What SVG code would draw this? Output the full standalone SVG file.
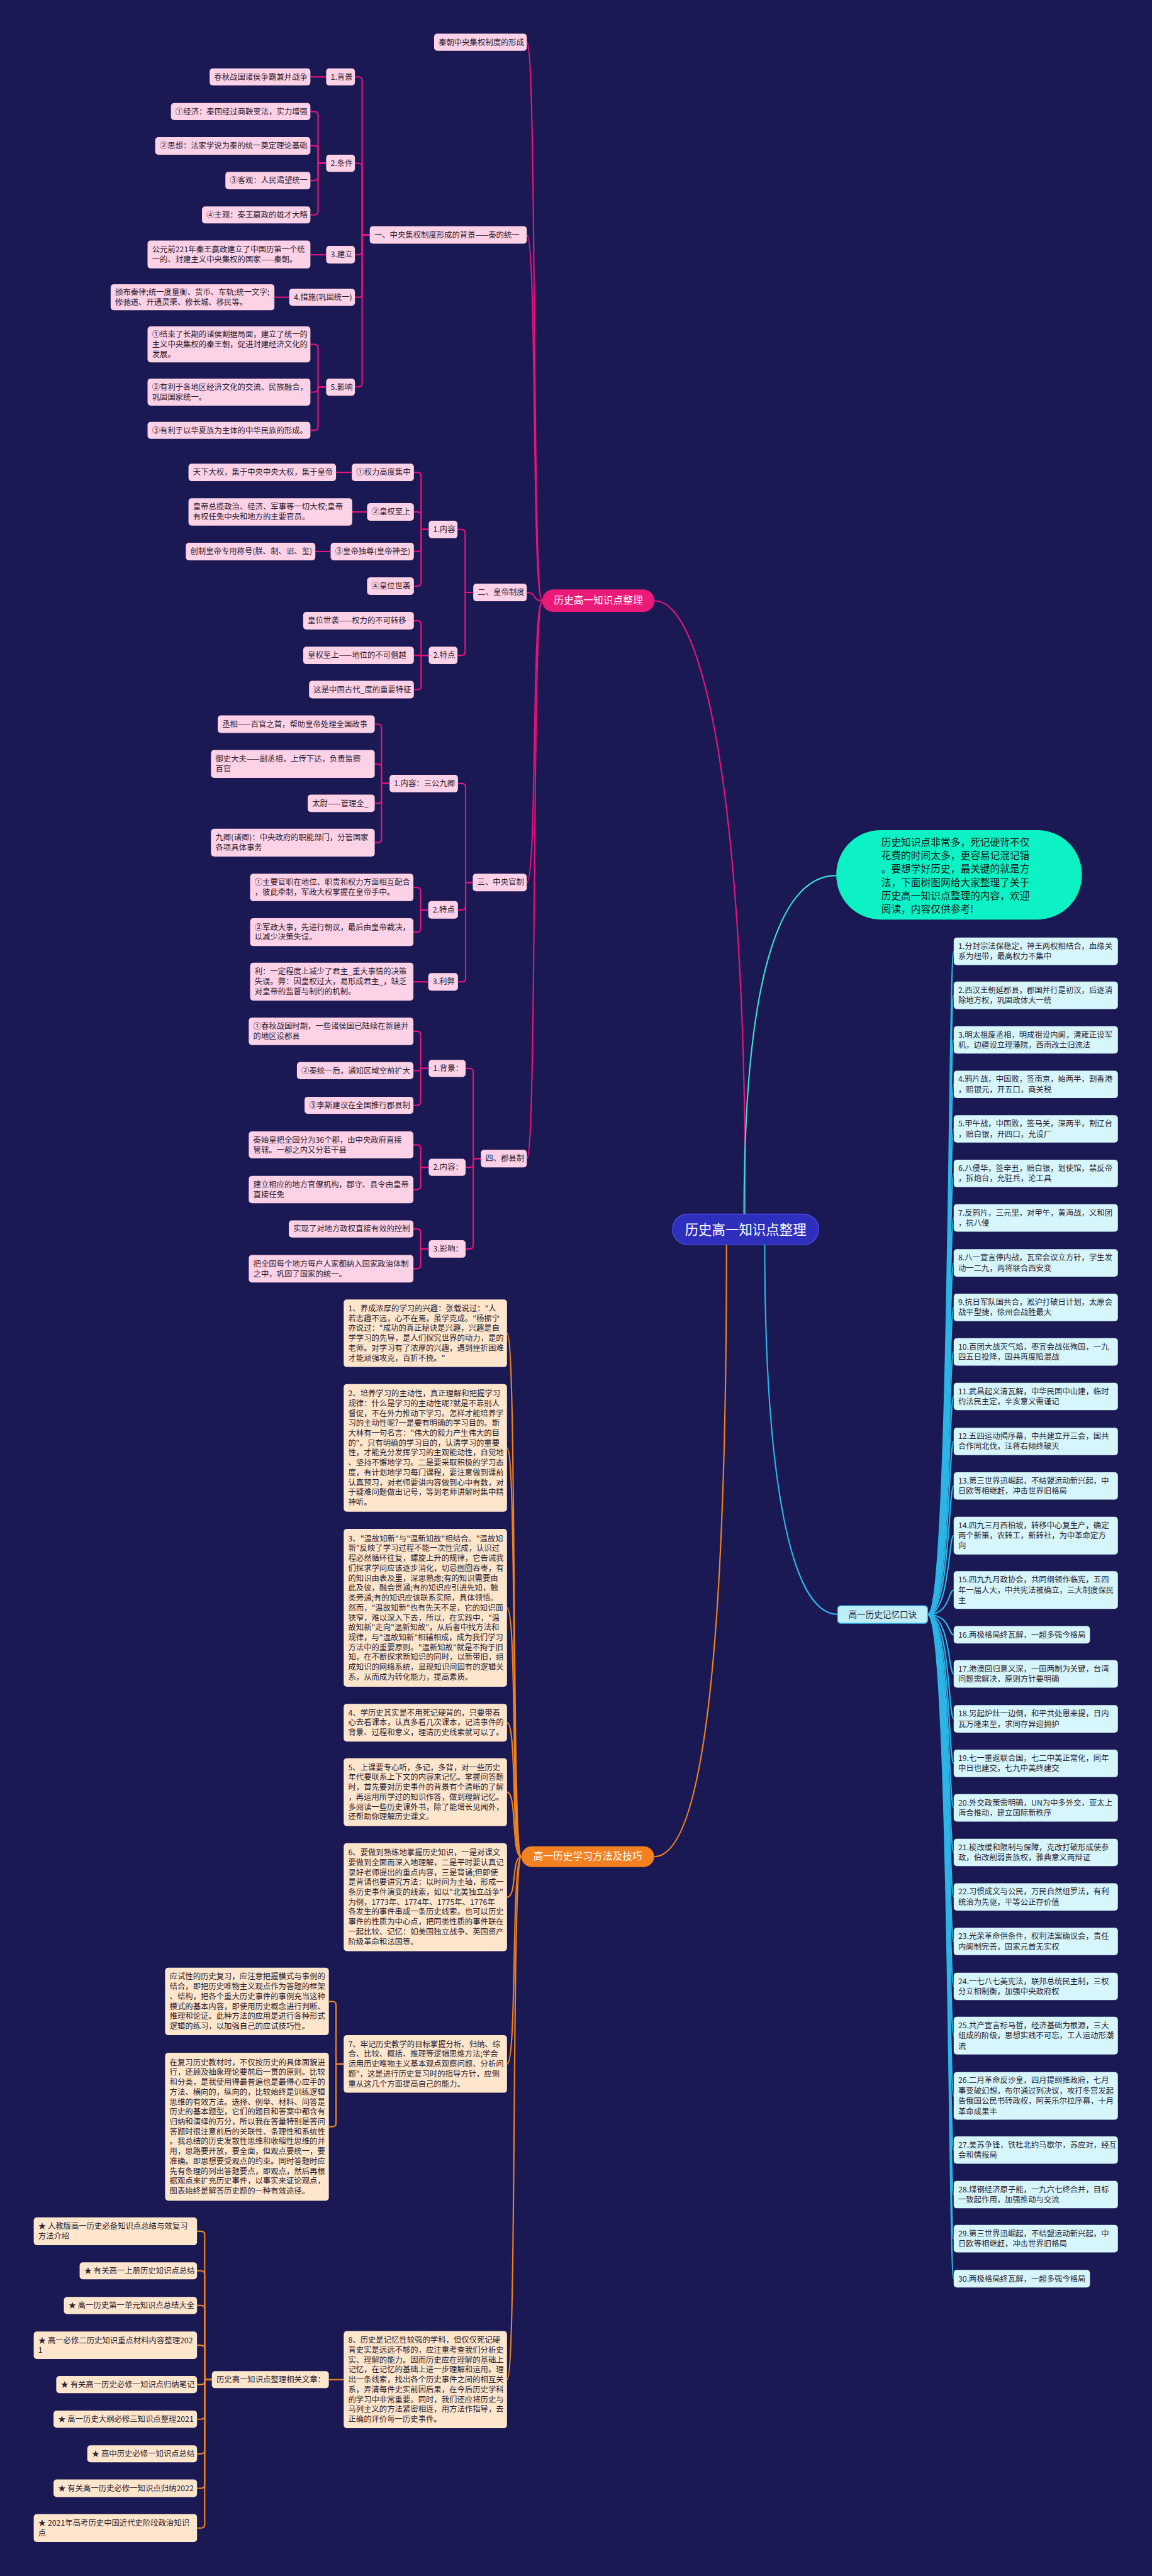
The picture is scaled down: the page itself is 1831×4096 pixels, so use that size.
<svg xmlns="http://www.w3.org/2000/svg" width="1831" height="4096" viewBox="0 0 1831 4096">
<style>
text{font-family:"Noto Sans CJK SC","Noto Sans",sans-serif;font-size:17.3px;fill:#2a2230}
.pk{fill:#fdd1e6}
.or{fill:#fee6cd}
.cy{fill:#d6f6fc}
.lp{fill:none;stroke:#e8137a;stroke-width:3}
.lo{fill:none;stroke:#f0821e;stroke-width:3}
.lc{fill:none;stroke:#2cb5e6;stroke-width:3}
.w{fill:#ffffff}
</style>
<rect x="0" y="0" width="1831" height="4096" fill="#1b1954"/>
<g transform="scale(0.715)">
<g id="connectors">
<path class="lp" d="M1657,2700 C1657,1750 1560,1336 1455,1336"/>
<path d="M1654,2700 C1654,2150 1740,1947 1859,1947" fill="none" stroke="#3be0d0" stroke-width="3"/>
<path class="lo" d="M1615,2768 C1615,3700 1560,4129 1454,4129"/>
<path class="lc" d="M1700,2768 C1700,3300 1760,3590 1862,3590"/>
<path class="lp" d="M1205,1336 C1182,1336 1194,94 1171,94"/>
<path class="lp" d="M1205,1336 C1182,1336 1194,522.5 1171,522.5"/>
<path class="lp" d="M1205,1336 C1182,1336 1194,1317.5 1171,1317.5"/>
<path class="lp" d="M1205,1336 C1182,1336 1194,1962.5 1171,1962.5"/>
<path class="lp" d="M1205,1336 C1182,1336 1194,2576.5 1171,2576.5"/>
<path class="lp" d="M822,522.5 H805 V179 Q805,171 797,171 H789"/>
<path class="lp" d="M822,522.5 H805 V371 Q805,363 797,363 H789"/>
<path class="lp" d="M822,522.5 H805 V558.5 Q805,566.5 797,566.5 H789"/>
<path class="lp" d="M822,522.5 H805 V653 Q805,661 797,661 H789"/>
<path class="lp" d="M822,522.5 H805 V852.5 Q805,860.5 797,860.5 H789"/>
<path class="lp" d="M725,171 H690"/>
<path class="lp" d="M725,363 H707 V256 Q707,248 699,248 H690"/>
<path class="lp" d="M725,363 H707 V332 Q707,324 699,324 H690"/>
<path class="lp" d="M725,363 H707 V393.5 Q707,401.5 699,401.5 H690"/>
<path class="lp" d="M725,363 H707 V470 Q707,478 699,478 H690"/>
<path class="lp" d="M725,566.5 H690"/>
<path class="lp" d="M643,661 H610"/>
<path class="lp" d="M725,860.5 H707 V774 Q707,766 699,766 H690"/>
<path class="lp" d="M725,860.5 H707 V864 Q707,872 699,872 H690"/>
<path class="lp" d="M725,860.5 H707 V949 Q707,957 699,957 H690"/>
<path class="lp" d="M1052,1317.5 H1034 V1185.5 Q1034,1177.5 1026,1177.5 H1017"/>
<path class="lp" d="M1052,1317.5 H1034 V1449.5 Q1034,1457.5 1026,1457.5 H1017"/>
<path class="lp" d="M953,1177.5 H936 V1058.5 Q936,1050.5 928,1050.5 H920"/>
<path class="lp" d="M953,1177.5 H936 V1146.5 Q936,1138.5 928,1138.5 H920"/>
<path class="lp" d="M953,1177.5 H936 V1218.5 Q936,1226.5 928,1226.5 H920"/>
<path class="lp" d="M953,1177.5 H936 V1295.5 Q936,1303.5 928,1303.5 H920"/>
<path class="lp" d="M782,1050.5 H747"/>
<path class="lp" d="M816,1138.5 H783"/>
<path class="lp" d="M735,1226.5 H701"/>
<path class="lp" d="M953,1457.5 H936 V1388.5 Q936,1380.5 928,1380.5 H920"/>
<path class="lp" d="M953,1457.5 H920"/>
<path class="lp" d="M953,1457.5 H936 V1525.5 Q936,1533.5 928,1533.5 H920"/>
<path class="lp" d="M1051,1962.5 H1035 V1750.5 Q1035,1742.5 1027,1742.5 H1018"/>
<path class="lp" d="M1051,1962.5 H1035 V2015.5 Q1035,2023.5 1027,2023.5 H1018"/>
<path class="lp" d="M1051,1962.5 H1035 V2175.5 Q1035,2183.5 1027,2183.5 H1018"/>
<path class="lp" d="M866,1742.5 H848 V1618.5 Q848,1610.5 840,1610.5 H833"/>
<path class="lp" d="M866,1742.5 H848 V1707 Q848,1699 840,1699 H833"/>
<path class="lp" d="M866,1742.5 H848 V1778.5 Q848,1786.5 840,1786.5 H833"/>
<path class="lp" d="M866,1742.5 H848 V1866 Q848,1874 840,1874 H833"/>
<path class="lp" d="M952,2023.5 H935 V1981.5 Q935,1973.5 927,1973.5 H919"/>
<path class="lp" d="M952,2023.5 H935 V2065 Q935,2073 927,2073 H919"/>
<path class="lp" d="M952,2183.5 H919"/>
<path class="lp" d="M1069,2576.5 H1052 V2384 Q1052,2376 1044,2376 H1035"/>
<path class="lp" d="M1069,2576.5 H1052 V2588 Q1052,2596 1044,2596 H1035"/>
<path class="lp" d="M1069,2576.5 H1052 V2769.5 Q1052,2777.5 1044,2777.5 H1035"/>
<path class="lp" d="M953,2376 H935 V2301.5 Q935,2293.5 927,2293.5 H919"/>
<path class="lp" d="M953,2376 H935 V2381 H919"/>
<path class="lp" d="M953,2376 H935 V2450 Q935,2458 927,2458 H919"/>
<path class="lp" d="M953,2596 H935 V2554 Q935,2546 927,2546 H919"/>
<path class="lp" d="M953,2596 H935 V2637.5 Q935,2645.5 927,2645.5 H919"/>
<path class="lp" d="M953,2777.5 H935 V2741 Q935,2733 927,2733 H919"/>
<path class="lp" d="M953,2777.5 H935 V2813.5 Q935,2821.5 927,2821.5 H919"/>
<path class="lo" d="M1159,4129 C1136,4129 1150,2965 1127,2965"/>
<path class="lo" d="M1159,4129 C1136,4129 1150,3220 1127,3220"/>
<path class="lo" d="M1159,4129 C1136,4129 1150,3575.5 1127,3575.5"/>
<path class="lo" d="M1159,4129 C1136,4129 1150,3831 1127,3831"/>
<path class="lo" d="M1159,4129 C1136,4129 1150,3985.5 1127,3985.5"/>
<path class="lo" d="M1159,4129 C1136,4129 1150,4219 1127,4219"/>
<path class="lo" d="M1159,4129 C1136,4129 1150,4590 1127,4590"/>
<path class="lo" d="M1159,4129 C1136,4129 1150,5292 1127,5292"/>
<path class="lo" d="M764,4590 H747 V4459 Q747,4451 739,4451 H731"/>
<path class="lo" d="M764,4590 H747 V4721.5 Q747,4729.5 739,4729.5 H731"/>
<path class="lo" d="M764,5292 H731"/>
<path class="lo" d="M471,5292 H455 V4970 Q455,4962 447,4962 H438"/>
<path class="lo" d="M471,5292 H455 V5058 Q455,5050 447,5050 H438"/>
<path class="lo" d="M471,5292 H455 V5135 Q455,5127 447,5127 H438"/>
<path class="lo" d="M471,5292 H455 V5223.5 Q455,5215.5 447,5215.5 H438"/>
<path class="lo" d="M471,5292 H455 V5295 Q455,5303 447,5303 H438"/>
<path class="lo" d="M471,5292 H455 V5372 Q455,5380 447,5380 H438"/>
<path class="lo" d="M471,5292 H455 V5449 Q455,5457 447,5457 H438"/>
<path class="lo" d="M471,5292 H455 V5525.5 Q455,5533.5 447,5533.5 H438"/>
<path class="lo" d="M471,5292 H455 V5614 Q455,5622 447,5622 H438"/>
<g class="lc">
<path d="M2062,3590.5 C2112,3590.5 2108,2115.5 2120,2115.5"/>
<path d="M2062,3590.5 C2112,3590.5 2108,2213.5 2120,2213.5"/>
<path d="M2062,3590.5 C2112,3590.5 2108,2312.5 2120,2312.5"/>
<path d="M2062,3590.5 C2112,3590.5 2108,2411.5 2120,2411.5"/>
<path d="M2062,3590.5 C2112,3590.5 2108,2510.5 2120,2510.5"/>
<path d="M2062,3590.5 C2112,3590.5 2108,2609.5 2120,2609.5"/>
<path d="M2062,3590.5 C2112,3590.5 2108,2708.5 2120,2708.5"/>
<path d="M2062,3590.5 C2112,3590.5 2108,2808.5 2120,2808.5"/>
<path d="M2062,3590.5 C2112,3590.5 2108,2907.5 2120,2907.5"/>
<path d="M2062,3590.5 C2112,3590.5 2108,3006.5 2120,3006.5"/>
<path d="M2062,3590.5 C2112,3590.5 2108,3105.5 2120,3105.5"/>
<path d="M2062,3590.5 C2112,3590.5 2108,3205.5 2120,3205.5"/>
<path d="M2062,3590.5 C2112,3590.5 2108,3304.5 2120,3304.5"/>
<path d="M2062,3590.5 C2112,3590.5 2108,3415 2120,3415"/>
<path d="M2062,3590.5 C2112,3590.5 2108,3536 2120,3536"/>
<path d="M2062,3590.5 C2112,3590.5 2108,3635.5 2120,3635.5"/>
<path d="M2062,3590.5 C2112,3590.5 2108,3722.5 2120,3722.5"/>
<path d="M2062,3590.5 C2112,3590.5 2108,3822.5 2120,3822.5"/>
<path d="M2062,3590.5 C2112,3590.5 2108,3921.5 2120,3921.5"/>
<path d="M2062,3590.5 C2112,3590.5 2108,4020.5 2120,4020.5"/>
<path d="M2062,3590.5 C2112,3590.5 2108,4119.5 2120,4119.5"/>
<path d="M2062,3590.5 C2112,3590.5 2108,4218.5 2120,4218.5"/>
<path d="M2062,3590.5 C2112,3590.5 2108,4317.5 2120,4317.5"/>
<path d="M2062,3590.5 C2112,3590.5 2108,4417.5 2120,4417.5"/>
<path d="M2062,3590.5 C2112,3590.5 2108,4527 2120,4527"/>
<path d="M2062,3590.5 C2112,3590.5 2108,4661 2120,4661"/>
<path d="M2062,3590.5 C2112,3590.5 2108,4781.5 2120,4781.5"/>
<path d="M2062,3590.5 C2112,3590.5 2108,4880.5 2120,4880.5"/>
<path d="M2062,3590.5 C2112,3590.5 2108,4978.5 2120,4978.5"/>
<path d="M2062,3590.5 C2112,3590.5 2108,5067.5 2120,5067.5"/>
</g>
</g>

<g id="root"><rect x="1495" y="2700" width="325" height="68" rx="34" fill="#2f2fbe" stroke="#4b4be6" stroke-width="2"/><text x="1657.5" y="2745" text-anchor="middle" class="w" style="font-size:30px">历史高一知识点整理</text></g>

<g id="intro"><rect x="1859" y="1846" width="546" height="199" rx="99" fill="#0cf2c4"/><text style="font-size:22px;fill:#1a1a1a"><tspan x="1959" y="1881">历史知识点非常多，死记硬背不仅</tspan><tspan x="1959" y="1911">花费的时间太多，更容易记混记错</tspan><tspan x="1959" y="1940">。要想学好历史，最关键的就是方</tspan><tspan x="1959" y="1970">法，下面树图网给大家整理了关于</tspan><tspan x="1959" y="2000">历史高一知识点整理的内容，欢迎</tspan><tspan x="1959" y="2029">阅读，内容仅供参考!</tspan></text></g>

<g id="pink-main"><rect x="1205" y="1311" width="250" height="50" rx="25" fill="#ea1a78"/><text x="1330" y="1343" text-anchor="middle" class="w" style="font-size:22px">历史高一知识点整理</text></g>

<g id="p-A"><rect class="pk" x="965" y="75" width="206" height="38" rx="7"/><text x="975" y="100">秦朝中央集权制度的形成</text></g>
<g id="p-B"><rect class="pk" x="822" y="503" width="349" height="39" rx="7"/><text x="832" y="528.5">一、中央集权制度形成的背景——秦的统一</text></g>
<g id="p-C"><rect class="pk" x="1052" y="1298" width="119" height="39" rx="7"/><text x="1062" y="1323.5">二、皇帝制度</text></g>
<g id="p-D"><rect class="pk" x="1051" y="1943" width="120" height="39" rx="7"/><text x="1061" y="1968.5">三、中央官制</text></g>
<g id="p-E"><rect class="pk" x="1069" y="2557" width="102" height="39" rx="7"/><text x="1079" y="2582.5">四、郡县制</text></g>

<g id="p-b1"><rect class="pk" x="725" y="152" width="64" height="38" rx="7"/><text x="735" y="177">1.背景</text></g>
<g id="p-b1a"><rect class="pk" x="466" y="152" width="224" height="38" rx="7"/><text x="476" y="177">春秋战国诸侯争霸兼并战争</text></g>
<g id="p-b2"><rect class="pk" x="725" y="344" width="64" height="38" rx="7"/><text x="735" y="369">2.条件</text></g>
<g id="p-b2a"><rect class="pk" x="380" y="229" width="310" height="38" rx="7"/><text x="390" y="254">①经济：秦国经过商鞅变法，实力增强</text></g>
<g id="p-b2b"><rect class="pk" x="345" y="305" width="345" height="39" rx="7"/><text x="355" y="330">②思想：法家学说为秦的统一奠定理论基础</text></g>
<g id="p-b2c"><rect class="pk" x="501" y="382" width="189" height="39" rx="7"/><text x="511" y="407.5">③客观：人民渴望统一</text></g>
<g id="p-b2d"><rect class="pk" x="449" y="459" width="241" height="38" rx="7"/><text x="459" y="484">④主观：秦王嬴政的雄才大略</text></g>
<g id="p-b3"><rect class="pk" x="725" y="547" width="64" height="39" rx="7"/><text x="735" y="572.5">3.建立</text></g>
<g id="p-b3a"><rect class="pk" x="328" y="535" width="362" height="62" rx="7"/><text><tspan x="338" y="561">公元前221年秦王嬴政建立了中国历第一个统</tspan><tspan x="338" y="583">一的、封建主义中央集权的国家——秦朝。</tspan></text></g>
<g id="p-b4"><rect class="pk" x="643" y="642" width="146" height="38" rx="7"/><text x="653" y="667">4.措施(巩固统一)</text></g>
<g id="p-b4a"><rect class="pk" x="246" y="632" width="364" height="58" rx="7"/><text><tspan x="256" y="656">颁布秦律;统一度量衡、货币、车轨;统一文字;</tspan><tspan x="256" y="678">修驰道、开通灵渠、修长城、移民等。</tspan></text></g>
<g id="p-b5"><rect class="pk" x="725" y="842" width="64" height="38" rx="7"/><text x="735" y="867">5.影响</text></g>
<g id="p-b5a"><rect class="pk" x="328" y="726" width="362" height="80" rx="7"/><text><tspan x="338" y="750">①结束了长期的诸侯割据局面，建立了统一的</tspan><tspan x="338" y="772">主义中央集权的秦王朝，促进封建经济文化的</tspan><tspan x="338" y="794">发展。</tspan></text></g>
<g id="p-b5b"><rect class="pk" x="328" y="842" width="362" height="60" rx="7"/><text><tspan x="338" y="867">②有利于各地区经济文化的交流、民族融合，</tspan><tspan x="338" y="889">巩固国家统一。</tspan></text></g>
<g id="p-b5c"><rect class="pk" x="328" y="938" width="362" height="38" rx="7"/><text x="338" y="963">③有利于以华夏族为主体的中华民族的形成。</text></g>

<g id="p-c1"><rect class="pk" x="953" y="1158" width="64" height="39" rx="7"/><text x="963" y="1183.5">1.内容</text></g>
<g id="p-c1a"><rect class="pk" x="782" y="1031" width="138" height="39" rx="7"/><text x="792" y="1056.5">①权力高度集中</text></g>
<g id="p-c1a1"><rect class="pk" x="419" y="1031" width="328" height="39" rx="7"/><text x="429" y="1056.5">天下大权，集于中央中央大权，集于皇帝</text></g>
<g id="p-c1b"><rect class="pk" x="816" y="1119" width="104" height="39" rx="7"/><text x="826" y="1144.5">②皇权至上</text></g>
<g id="p-c1b1"><rect class="pk" x="419" y="1108" width="364" height="61" rx="7"/><text><tspan x="429" y="1133.5">皇帝总揽政治、经济、军事等一切大权;皇帝</tspan><tspan x="429" y="1155.5">有权任免中央和地方的主要官员。</tspan></text></g>
<g id="p-c1c"><rect class="pk" x="735" y="1207" width="185" height="39" rx="7"/><text x="745" y="1232.5">③皇帝独尊(皇帝神圣)</text></g>
<g id="p-c1c1"><rect class="pk" x="413" y="1207" width="288" height="39" rx="7"/><text x="423" y="1232.5">创制皇帝专用称号(朕、制、诏、玺)</text></g>
<g id="p-c1d"><rect class="pk" x="816" y="1284" width="104" height="39" rx="7"/><text x="826" y="1309.5">④皇位世袭</text></g>
<g id="p-c2"><rect class="pk" x="953" y="1438" width="64" height="39" rx="7"/><text x="963" y="1463.5">2.特点</text></g>
<g id="p-c2a"><rect class="pk" x="674" y="1361" width="246" height="39" rx="7"/><text x="684" y="1386.5">皇位世袭——权力的不可转移</text></g>
<g id="p-c2b"><rect class="pk" x="674" y="1438" width="246" height="39" rx="7"/><text x="684" y="1463.5">皇权至上——地位的不可僭越</text></g>
<g id="p-c2c"><rect class="pk" x="687" y="1514" width="233" height="39" rx="7"/><text x="697" y="1539.5">这是中国古代_度的重要特征</text></g>

<g id="p-d1"><rect class="pk" x="866" y="1723" width="152" height="39" rx="7"/><text x="876" y="1748.5">1.内容：三公九卿</text></g>
<g id="p-d1a"><rect class="pk" x="484" y="1591" width="349" height="39" rx="7"/><text x="494" y="1616.5">丞相——百官之首，帮助皇帝处理全国政事</text></g>
<g id="p-d1b"><rect class="pk" x="469" y="1668" width="364" height="62" rx="7"/><text><tspan x="479" y="1694">御史大夫——副丞相，上传下达，负责监察</tspan><tspan x="479" y="1716">百官</tspan></text></g>
<g id="p-d1c"><rect class="pk" x="684" y="1767" width="149" height="39" rx="7"/><text x="694" y="1792.5">太尉——管理全_</text></g>
<g id="p-d1d"><rect class="pk" x="469" y="1843" width="364" height="62" rx="7"/><text><tspan x="479" y="1869">九卿(诸卿)：中央政府的职能部门，分管国家</tspan><tspan x="479" y="1891">各项具体事务</tspan></text></g>
<g id="p-d2"><rect class="pk" x="952" y="2004" width="66" height="39" rx="7"/><text x="962" y="2029.5">2.特点</text></g>
<g id="p-d2a"><rect class="pk" x="556" y="1943" width="363" height="61" rx="7"/><text><tspan x="566" y="1968.5">①主要官职在地位、职责和权力方面相互配合</tspan><tspan x="566" y="1990.5">，彼此牵制，军政大权掌握在皇帝手中。</tspan></text></g>
<g id="p-d2b"><rect class="pk" x="556" y="2042" width="363" height="62" rx="7"/><text><tspan x="566" y="2068">②军政大事，先进行朝议，最后由皇帝裁决，</tspan><tspan x="566" y="2090">以减少决策失误。</tspan></text></g>
<g id="p-d3"><rect class="pk" x="952" y="2164" width="66" height="39" rx="7"/><text x="962" y="2189.5">3.利弊</text></g>
<g id="p-d3a"><rect class="pk" x="556" y="2141" width="363" height="84" rx="7"/><text><tspan x="566" y="2167">利：一定程度上减少了君主_重大事情的决策</tspan><tspan x="566" y="2189">失误。弊：因皇权过大，易形成君主_，缺乏</tspan><tspan x="566" y="2211">对皇帝的监督与制约的机制。</tspan></text></g>

<g id="p-e1"><rect class="pk" x="953" y="2357" width="82" height="38" rx="7"/><text x="963" y="2382">1.背景：</text></g>
<g id="p-e1a"><rect class="pk" x="553" y="2263" width="366" height="61" rx="7"/><text><tspan x="563" y="2288.5">①春秋战国时期，一些诸侯国已陆续在新建并</tspan><tspan x="563" y="2310.5">的地区设郡县</tspan></text></g>
<g id="p-e1b"><rect class="pk" x="660" y="2362" width="259" height="38" rx="7"/><text x="670" y="2387">②秦统一后，通知区域空前扩大</text></g>
<g id="p-e1c"><rect class="pk" x="677" y="2439" width="242" height="38" rx="7"/><text x="687" y="2464">③李斯建议在全国推行郡县制</text></g>
<g id="p-e2"><rect class="pk" x="953" y="2577" width="82" height="38" rx="7"/><text x="963" y="2602">2.内容：</text></g>
<g id="p-e2a"><rect class="pk" x="553" y="2516" width="366" height="60" rx="7"/><text><tspan x="563" y="2541">秦始皇把全国分为36个郡，由中央政府直接</tspan><tspan x="563" y="2563">管辖。一郡之内又分若干县</tspan></text></g>
<g id="p-e2b"><rect class="pk" x="553" y="2615" width="366" height="61" rx="7"/><text><tspan x="563" y="2640.5">建立相应的地方官僚机构，郡守、县令由皇帝</tspan><tspan x="563" y="2662.5">直接任免</tspan></text></g>
<g id="p-e3"><rect class="pk" x="953" y="2758" width="82" height="39" rx="7"/><text x="963" y="2783.5">3.影响：</text></g>
<g id="p-e3a"><rect class="pk" x="642" y="2714" width="277" height="38" rx="7"/><text x="652" y="2739">实现了对地方政权直接有效的控制</text></g>
<g id="p-e3b"><rect class="pk" x="553" y="2791" width="366" height="61" rx="7"/><text><tspan x="563" y="2816.5">把全国每个地方每户人家都纳入国家政治体制</tspan><tspan x="563" y="2838.5">之中，巩固了国家的统一。</tspan></text></g>

<g id="orange-main"><rect x="1159" y="4106" width="295" height="46" rx="23" fill="#f5801f"/><text x="1306.5" y="4136" text-anchor="middle" class="w" style="font-size:22px">高一历史学习方法及技巧</text></g>

<g id="o1"><rect class="or" x="764" y="2890" width="363" height="150" rx="7"/><text><tspan x="774" y="2916">1、养成浓厚的学习的兴趣：张载说过："人</tspan><tspan x="774" y="2938">若志趣不远，心不在焉，虽学克成。"杨振宁</tspan><tspan x="774" y="2960">亦说过："成功的真正秘诀是兴趣，兴趣是自</tspan><tspan x="774" y="2982">学学习的先导，是人们探究世界的动力，是的</tspan><tspan x="774" y="3004">老师。对学习有了浓厚的兴趣，遇到挫折困难</tspan><tspan x="774" y="3026">才能顽强攻克，百折不挠。"</tspan></text></g>
<g id="o2"><rect class="or" x="764" y="3078" width="363" height="284" rx="7"/><text><tspan x="774" y="3105">2、培养学习的主动性，真正理解和把握学习</tspan><tspan x="774" y="3127">规律：什么是学习的主动性呢?就是不靠别人</tspan><tspan x="774" y="3149">督促，不在外力推动下学习。怎样才能培养学</tspan><tspan x="774" y="3171">习的主动性呢?一是要有明确的学习目的。斯</tspan><tspan x="774" y="3193">大林有一句名言："伟大的毅力产生伟大的目</tspan><tspan x="774" y="3215">的"。只有明确的学习目的，认清学习的重要</tspan><tspan x="774" y="3237">性，才能充分发挥学习的主观能动性，自觉地</tspan><tspan x="774" y="3259">、坚持不懈地学习。二是要采取积极的学习态</tspan><tspan x="774" y="3281">度，有计划地学习每门课程，要注意做到课前</tspan><tspan x="774" y="3303">认真预习，对老师要讲内容做到心中有数，对</tspan><tspan x="774" y="3325">于疑难问题做出记号，等到老师讲解时集中精</tspan><tspan x="774" y="3347">神听。</tspan></text></g>
<g id="o3"><rect class="or" x="764" y="3400" width="363" height="351" rx="7"/><text><tspan x="774" y="3427.5">3、"温故知新"与"温新知故"相结合。"温故知</tspan><tspan x="774" y="3449.5">新"反映了学习过程不能一次性完成，认识过</tspan><tspan x="774" y="3471.5">程必然循环往复，螺旋上升的规律，它告诫我</tspan><tspan x="774" y="3493.5">们探求学问应该逐步消化，切忌囫囵吞枣，有</tspan><tspan x="774" y="3515.5">的知识由表及里，深思熟虑;有的知识需要由</tspan><tspan x="774" y="3537.5">此及彼，融会贯通;有的知识应引进先知，触</tspan><tspan x="774" y="3559.5">类旁通;有的知识应该联系实际，具体领悟。</tspan><tspan x="774" y="3581.5">然而，"温故知新"也有先天不足，它的知识面</tspan><tspan x="774" y="3603.5">狭窄，难以深入下去，所以，在实践中，"温</tspan><tspan x="774" y="3625.5">故知新"走向"温新知故"，从后者中找方法和</tspan><tspan x="774" y="3647.5">规律，与"温故知新"相辅相成，成为我们学习</tspan><tspan x="774" y="3669.5">方法中的重要原则。"温新知故"就是不拘于旧</tspan><tspan x="774" y="3691.5">知，在不断探求新知识的同时，以新带旧，组</tspan><tspan x="774" y="3713.5">成知识的网络系统，显现知识间固有的逻辑关</tspan><tspan x="774" y="3735.5">系，从而成为转化能力，提高素质。</tspan></text></g>
<g id="o4"><rect class="or" x="764" y="3789" width="363" height="84" rx="7"/><text><tspan x="774" y="3815">4、学历史其实是不用死记硬背的，只要带着</tspan><tspan x="774" y="3837">心去看课本，认真多看几次课本，记清事件的</tspan><tspan x="774" y="3859">背景、过程和意义，理清历史线索就可以了。</tspan></text></g>
<g id="o5"><rect class="or" x="764" y="3910" width="363" height="151" rx="7"/><text><tspan x="774" y="3936.5">5、上课要专心听，多记，多背，对一些历史</tspan><tspan x="774" y="3958.5">年代要联系上下文的内容来记忆。掌握问答题</tspan><tspan x="774" y="3980.5">时，首先要对历史事件的背景有个清晰的了解</tspan><tspan x="774" y="4002.5">，再运用所学过的知识作答，做到理解记忆。</tspan><tspan x="774" y="4024.5">多阅读一些历史课外书，除了能增长见闻外，</tspan><tspan x="774" y="4046.5">还帮助你理解历史课文。</tspan></text></g>
<g id="o6"><rect class="or" x="764" y="4099" width="363" height="240" rx="7"/><text><tspan x="774" y="4126">6、要做到熟练地掌握历史知识，一是对课文</tspan><tspan x="774" y="4148">要做到全面而深入地理解，二是平时要认真记</tspan><tspan x="774" y="4170">录好老师提出的重点内容，三是背诵;但即使</tspan><tspan x="774" y="4192">是背诵也要讲究方法：以时间为主轴，形成一</tspan><tspan x="774" y="4214">条历史事件演变的线索，如以"北美独立战争"</tspan><tspan x="774" y="4236">为例，1773年、1774年、1775年、1776年</tspan><tspan x="774" y="4258">各发生的事件串成一条历史线索。也可以历史</tspan><tspan x="774" y="4280">事件的性质为中心点，把同类性质的事件联在</tspan><tspan x="774" y="4302">一起比较、记忆：如美国独立战争、英国资产</tspan><tspan x="774" y="4324">阶级革命和法国等。</tspan></text></g>
<g id="o7"><rect class="or" x="764" y="4526" width="363" height="128" rx="7"/><text><tspan x="774" y="4552">7、牢记历史教学的目标掌握分析、归纳、综</tspan><tspan x="774" y="4574">合、比较、概括、推理等逻辑思维方法;学会</tspan><tspan x="774" y="4596">运用历史唯物主义基本观点观察问题、分析问</tspan><tspan x="774" y="4618">题"，这是进行历史复习时的指导方针，应侧</tspan><tspan x="774" y="4640">重从这几个方面提高自己的能力。</tspan></text></g>
<g id="o7a"><rect class="or" x="367" y="4376" width="364" height="150" rx="7"/><text><tspan x="377" y="4402">应试性的历史复习，应注意把握模式与事例的</tspan><tspan x="377" y="4424">结合，即把历史唯物主义观点作为答题的框架</tspan><tspan x="377" y="4446">、结构，把各个重大历史事件的事例充当这种</tspan><tspan x="377" y="4468">模式的基本内容，即使用历史概念进行判断、</tspan><tspan x="377" y="4490">推理和论证。此种方法的应用是进行各种形式</tspan><tspan x="377" y="4512">逻辑的练习，以加强自己的应试技巧性。</tspan></text></g>
<g id="o7b"><rect class="or" x="367" y="4565" width="364" height="329" rx="7"/><text><tspan x="377" y="4592.5">在复习历史教材时，不仅按历史的具体面貌进</tspan><tspan x="377" y="4614.5">行，还顾及抽象理论要前后一贯的原则。比较</tspan><tspan x="377" y="4636.5">和分类，是我使用得最普遍也是最得心应手的</tspan><tspan x="377" y="4658.5">方法、横向的，纵向的，比较始终是训练逻辑</tspan><tspan x="377" y="4680.5">思维的有效方法。选择、例举、材料、问答是</tspan><tspan x="377" y="4702.5">历史的基本题型，它们的题目和答案中都含有</tspan><tspan x="377" y="4724.5">归纳和演绎的万分，所以我在答量特别是答问</tspan><tspan x="377" y="4746.5">答题时很注意前后的关联性、条理性和系统性</tspan><tspan x="377" y="4768.5">。我总结的历史发散性思维和收缩性思维的并</tspan><tspan x="377" y="4790.5">用，思路要开放，要全面，但观点要统一，要</tspan><tspan x="377" y="4812.5">准确。即思想要受观点的约束。同时答题时应</tspan><tspan x="377" y="4834.5">先有条理的列出答题要点，即观点，然后再根</tspan><tspan x="377" y="4856.5">据观点来扩充历史事件，以事实来证论观点，</tspan><tspan x="377" y="4878.5">图表始终是解答历史题的一种有效途径。</tspan></text></g>
<g id="o8"><rect class="or" x="764" y="5184" width="363" height="216" rx="7"/><text><tspan x="774" y="5210">8、历史是记忆性较强的学科，但仅仅死记硬</tspan><tspan x="774" y="5232">背史实是远远不够的，应注重考查我们分析史</tspan><tspan x="774" y="5254">实、理解的能力。因而历史应在理解的基础上</tspan><tspan x="774" y="5276">记忆，在记忆的基础上进一步理解和运用。理</tspan><tspan x="774" y="5298">出一条线索，找出各个历史事件之间的相互关</tspan><tspan x="774" y="5320">系，弄清每件史实前因后果，在今后历史学科</tspan><tspan x="774" y="5342">的学习中非常重要。同时，我们还应将历史与</tspan><tspan x="774" y="5364">马列主义的方法紧密相连，用方法作指导，去</tspan><tspan x="774" y="5386">正确的评价每一历史事件。</tspan></text></g>
<g id="o8a"><rect class="or" x="471" y="5273" width="260" height="38" rx="7"/><text x="481" y="5298">历史高一知识点整理相关文章：</text></g>
<g id="r1"><rect class="or" x="75" y="4931" width="363" height="62" rx="7"/><text><tspan x="85" y="4957">★ 人教版高一历史必备知识点总结与效复习</tspan><tspan x="85" y="4979">方法介绍</tspan></text></g>
<g id="r2"><rect class="or" x="177" y="5031" width="261" height="38" rx="7"/><text x="187" y="5056">★ 有关高一上册历史知识点总结</text></g>
<g id="r3"><rect class="or" x="142" y="5108" width="296" height="38" rx="7"/><text x="152" y="5133">★ 高一历史第一单元知识点总结大全</text></g>
<g id="r4"><rect class="or" x="75" y="5185" width="363" height="61" rx="7"/><text><tspan x="85" y="5210.5">★ 高一必修二历史知识重点材料内容整理202</tspan><tspan x="85" y="5232.5">1</tspan></text></g>
<g id="r5"><rect class="or" x="125" y="5284" width="313" height="38" rx="7"/><text x="135" y="5309">★ 有关高一历史必修一知识点归纳笔记</text></g>
<g id="r6"><rect class="or" x="119" y="5361" width="319" height="38" rx="7"/><text x="129" y="5386">★ 高一历史大纲必修三知识点整理2021</text></g>
<g id="r7"><rect class="or" x="194" y="5438" width="244" height="38" rx="7"/><text x="204" y="5463">★ 高中历史必修一知识点总结</text></g>
<g id="r8"><rect class="or" x="119" y="5514" width="319" height="39" rx="7"/><text x="129" y="5539.5">★ 有关高一历史必修一知识点归纳2022</text></g>
<g id="r9"><rect class="or" x="75" y="5591" width="363" height="62" rx="7"/><text><tspan x="85" y="5617">★ 2021年高考历史中国近代史阶段政治知识</tspan><tspan x="85" y="5639">点</tspan></text></g>

<g id="cyan-main"><rect x="1862" y="3571" width="200" height="39" rx="7" fill="#bdeefa" stroke="#2cb5e6" stroke-width="2"/><text x="1962" y="3597" text-anchor="middle" style="font-size:19px">高一历史记忆口诀</text></g>

<g id="k1"><rect class="cy" x="2120" y="2085" width="365" height="61" rx="7"/><text><tspan x="2130" y="2110">1.分封宗法保稳定，神王两权相结合，血缘关</tspan><tspan x="2130" y="2133">系为纽带，最高权力不集中</tspan></text></g>
<g id="k2"><rect class="cy" x="2120" y="2183" width="365" height="61" rx="7"/><text><tspan x="2130" y="2208">2.西汉王朝延郡县，郡国并行是初汉，后逐消</tspan><tspan x="2130" y="2231">除地方权，巩固政体大一统</tspan></text></g>
<g id="k3"><rect class="cy" x="2120" y="2282" width="365" height="61" rx="7"/><text><tspan x="2130" y="2307">3.明太祖废丞相，明成祖设内阁，清雍正设军</tspan><tspan x="2130" y="2330">机，边疆设立理藩院，西南改土归流法</tspan></text></g>
<g id="k4"><rect class="cy" x="2120" y="2381" width="365" height="61" rx="7"/><text><tspan x="2130" y="2406">4.鸦片战，中国败，签南京，始两半，割香港</tspan><tspan x="2130" y="2429">，赔银元，开五口，商关税</tspan></text></g>
<g id="k5"><rect class="cy" x="2120" y="2480" width="365" height="61" rx="7"/><text><tspan x="2130" y="2505">5.甲午战，中国败，签马关，深两半，割辽台</tspan><tspan x="2130" y="2528">，赔白银，开四口，允设厂</tspan></text></g>
<g id="k6"><rect class="cy" x="2120" y="2579" width="365" height="61" rx="7"/><text><tspan x="2130" y="2604">6.八侵华，签辛丑，赔白银，划使馆，禁反帝</tspan><tspan x="2130" y="2627">，拆炮台，允驻兵，沦工具</tspan></text></g>
<g id="k7"><rect class="cy" x="2120" y="2678" width="365" height="61" rx="7"/><text><tspan x="2130" y="2703">7.反鸦片，三元里，对甲午，黄海战，义和团</tspan><tspan x="2130" y="2726">，抗八侵</tspan></text></g>
<g id="k8"><rect class="cy" x="2120" y="2778" width="365" height="61" rx="7"/><text><tspan x="2130" y="2803">8.八一宣言停内战，瓦窑会议立方针，学生发</tspan><tspan x="2130" y="2826">动一二九，两将联合西安变</tspan></text></g>
<g id="k9"><rect class="cy" x="2120" y="2877" width="365" height="61" rx="7"/><text><tspan x="2130" y="2902">9.抗日军队国共合，淞沪打破日计划，太原会</tspan><tspan x="2130" y="2925">战平型捷，徐州会战胜最大</tspan></text></g>
<g id="k10"><rect class="cy" x="2120" y="2976" width="365" height="61" rx="7"/><text><tspan x="2130" y="3001">10.百团大战灭气焰，枣宜会战张殉国，一九</tspan><tspan x="2130" y="3024">四五日投降，国共再度陷混战</tspan></text></g>
<g id="k11"><rect class="cy" x="2120" y="3075" width="365" height="61" rx="7"/><text><tspan x="2130" y="3100">11.武昌起义清瓦解，中华民国中山建，临时</tspan><tspan x="2130" y="3123">约法民主定，辛亥意义需谨记</tspan></text></g>
<g id="k12"><rect class="cy" x="2120" y="3175" width="365" height="61" rx="7"/><text><tspan x="2130" y="3200">12.五四运动揭序幕，中共建立开三会，国共</tspan><tspan x="2130" y="3223">合作同北伐，汪蒋右倾终破灭</tspan></text></g>
<g id="k13"><rect class="cy" x="2120" y="3274" width="365" height="61" rx="7"/><text><tspan x="2130" y="3299">13.第三世界迅崛起，不结盟运动新兴起，中</tspan><tspan x="2130" y="3322">日欧等相继赶，冲击世界旧格局</tspan></text></g>
<g id="k14"><rect class="cy" x="2120" y="3373" width="365" height="84" rx="7"/><text><tspan x="2130" y="3398">14.四九三月西柏坡，转移中心复生产，确定</tspan><tspan x="2130" y="3421">两个新策，农转工，新转社，为中革命定方</tspan><tspan x="2130" y="3444">向</tspan></text></g>
<g id="k15"><rect class="cy" x="2120" y="3494" width="365" height="84" rx="7"/><text><tspan x="2130" y="3519">15.四九九月政协会，共同纲领作临宪，五四</tspan><tspan x="2130" y="3542">年一届人大，中共宪法被确立，三大制度保民</tspan><tspan x="2130" y="3565">主</tspan></text></g>
<g id="k16"><rect class="cy" x="2120" y="3616" width="303" height="39" rx="7"/><text x="2130" y="3641.5">16.两极格局终瓦解，一超多强今格局</text></g>
<g id="k17"><rect class="cy" x="2120" y="3692" width="365" height="61" rx="7"/><text><tspan x="2130" y="3717">17.港澳回归意义深，一国两制为关键，台湾</tspan><tspan x="2130" y="3740">问题需解决，原则方针要明确</tspan></text></g>
<g id="k18"><rect class="cy" x="2120" y="3792" width="365" height="61" rx="7"/><text><tspan x="2130" y="3817">18.另起炉灶一边倒，和平共处恩来提，日内</tspan><tspan x="2130" y="3840">瓦万隆来至，求同存异迎拥护</tspan></text></g>
<g id="k19"><rect class="cy" x="2120" y="3891" width="365" height="61" rx="7"/><text><tspan x="2130" y="3916">19.七一重返联合国，七二中美正常化，同年</tspan><tspan x="2130" y="3939">中日也建交，七九中美终建交</tspan></text></g>
<g id="k20"><rect class="cy" x="2120" y="3990" width="365" height="61" rx="7"/><text><tspan x="2130" y="4015">20.外交政策需明确，UN为中多外交，亚太上</tspan><tspan x="2130" y="4038">海合推动，建立国际新秩序</tspan></text></g>
<g id="k21"><rect class="cy" x="2120" y="4089" width="365" height="61" rx="7"/><text><tspan x="2130" y="4114">21.梭改缓和限制与保障，克改打破形成使参</tspan><tspan x="2130" y="4137">政，伯改削弱贵族权，雅典意义两辩证</tspan></text></g>
<g id="k22"><rect class="cy" x="2120" y="4188" width="365" height="61" rx="7"/><text><tspan x="2130" y="4213">22.习惯成文与公民，万民自然组罗法，有利</tspan><tspan x="2130" y="4236">统治为先驱，平等公正存价值</tspan></text></g>
<g id="k23"><rect class="cy" x="2120" y="4287" width="365" height="61" rx="7"/><text><tspan x="2130" y="4312">23.光荣革命供条件，权利法案确议会，责任</tspan><tspan x="2130" y="4335">内阁制完善，国家元首无实权</tspan></text></g>
<g id="k24"><rect class="cy" x="2120" y="4387" width="365" height="61" rx="7"/><text><tspan x="2130" y="4412">24.一七八七美宪法，联邦总统民主制，三权</tspan><tspan x="2130" y="4435">分立相制衡，加强中央政府权</tspan></text></g>
<g id="k25"><rect class="cy" x="2120" y="4485" width="365" height="84" rx="7"/><text><tspan x="2130" y="4510">25.共产宣言标马哲，经济基础为根源，三大</tspan><tspan x="2130" y="4533">组成的阶级，思想实践不可忘，工人运动形潮</tspan><tspan x="2130" y="4556">流</tspan></text></g>
<g id="k26"><rect class="cy" x="2120" y="4608" width="365" height="106" rx="7"/><text><tspan x="2130" y="4632.5">26.二月革命反沙皇，四月提纲推政府，七月</tspan><tspan x="2130" y="4655.5">事变破幻想，布尔通过列决议，攻打冬宫发起</tspan><tspan x="2130" y="4678.5">告俄国公民书转政权，阿芙乐尔拉序幕，十月</tspan><tspan x="2130" y="4701.5">革命成果丰</tspan></text></g>
<g id="k27"><rect class="cy" x="2120" y="4751" width="365" height="61" rx="7"/><text><tspan x="2130" y="4776">27.美苏争锋，铁杜北约马歇尔，苏应对，经互</tspan><tspan x="2130" y="4799">会和情报局</tspan></text></g>
<g id="k28"><rect class="cy" x="2120" y="4850" width="365" height="61" rx="7"/><text><tspan x="2130" y="4875">28.煤钢经济原子能，一九六七终合并，目标</tspan><tspan x="2130" y="4898">一致起作用，加强推动与交流</tspan></text></g>
<g id="k29"><rect class="cy" x="2120" y="4948" width="365" height="61" rx="7"/><text><tspan x="2130" y="4973">29.第三世界迅崛起，不结盟运动新兴起，中</tspan><tspan x="2130" y="4996">日欧等相继赶，冲击世界旧格局</tspan></text></g>
<g id="k30"><rect class="cy" x="2120" y="5048" width="303" height="39" rx="7"/><text x="2130" y="5073.5">30.两极格局终瓦解，一超多强今格局</text></g>
</g>
</svg>
